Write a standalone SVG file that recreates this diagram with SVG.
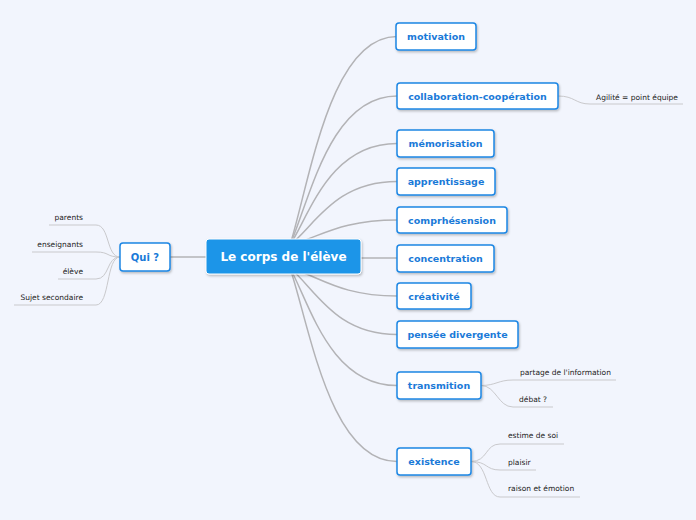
<svg xmlns="http://www.w3.org/2000/svg" width="696" height="520" viewBox="0 0 696 520">
<defs>
<filter id="sh" x="-10%" y="-20%" width="130%" height="150%">
<feDropShadow dx="1" dy="1.5" stdDeviation="1" flood-color="#000" flood-opacity="0.25"/>
</filter>
<style>
.main{fill:none;stroke:#b3b3b6;stroke-width:1.5}
.sub{fill:none;stroke:#c9c9cc;stroke-width:1}
.node rect{fill:#fff;stroke:#1c86e4;stroke-width:1.5}
.node text{font-family:"DejaVu Sans",Verdana,sans-serif;font-weight:bold;font-size:9.5px;fill:#1a7ad8;text-anchor:middle}
.leaf{font-family:"DejaVu Sans",Verdana,sans-serif;font-size:7.5px;fill:#222}
.lr{text-anchor:end}
</style>
</defs>
<rect width="696" height="520" fill="#f2f5fd"/>
<g id="connectors">
<path class="main" d="M290 245 C310 180.4 330 36.5 397 36.5"/>
<path class="main" d="M290 245 C310 198.8 330 96 397 96"/>
<path class="main" d="M290 245 C310 213.5 330 143.5 397 143.5"/>
<path class="main" d="M290 245 C315 225.3 335 181.5 397 181.5"/>
<path class="main" d="M290 245 C320 237 340 220 397 220"/>
<path class="main" d="M361 258 L397 258"/>
<path class="main" d="M290 268 C320 276.7 340 296 397 296"/>
<path class="main" d="M290 268 C315 288.6 335 334.5 397 334.5"/>
<path class="main" d="M290 268 C310 304.4 330 385.5 397 385.5"/>
<path class="main" d="M290 268 C310 328 330 461.5 397 461.5"/>
<path class="main" d="M170 257 L206 257"/>
<path class="sub" d="M120 257 C106 257 110 225 96 225 L49 225"/>
<path class="sub" d="M120 257 C106 257 110 252 96 252 L32 252"/>
<path class="sub" d="M120 257 C106 257 110 279 96 279 L58 279"/>
<path class="sub" d="M120 257 C106 257 110 305 96 305 L14 305"/>
<path class="sub" d="M558 96 C575 96 575 104 590 104 L683 104"/>
<path class="sub" d="M481 385.5 C496 385.5 498 380 513 380 L616 380"/>
<path class="sub" d="M481 385.5 C496 385.5 498 407 513 407 L553 407"/>
<path class="sub" d="M471 461.5 C488 461.5 485 444 500 444 L564 444"/>
<path class="sub" d="M471 461.5 C488 461.5 485 470 500 470 L536 470"/>
<path class="sub" d="M471 461.5 C488 461.5 485 497 500 497 L580 497"/>
</g>
<g id="center">
<rect x="206" y="239" width="155" height="35" rx="3" fill="#1b95e8" stroke="#fff" stroke-width="1" filter="url(#sh)"/>
<text x="283.5" y="261" font-family="DejaVu Sans,Verdana,sans-serif" font-weight="bold" font-size="12" fill="#fff" text-anchor="middle">Le corps de l'élève</text>
</g>
<g id="qui" class="node"><rect x="120" y="243" width="50" height="28" rx="3" filter="url(#sh)"/><text x="145" y="260.5" style="font-size:10px">Qui ?</text></g>
<g id="motivation" class="node"><rect x="396" y="23" width="80" height="27" rx="3" filter="url(#sh)"/><text x="436" y="40">motivation</text></g>
<g id="collaboration" class="node"><rect x="397" y="83" width="161" height="26" rx="3" filter="url(#sh)"/><text x="477.5" y="99.5">collaboration-coopération</text></g>
<g id="memorisation" class="node"><rect x="397" y="130" width="97" height="27" rx="3" filter="url(#sh)"/><text x="445.5" y="147">mémorisation</text></g>
<g id="apprentissage" class="node"><rect x="397" y="168" width="98" height="27" rx="3" filter="url(#sh)"/><text x="446" y="185">apprentissage</text></g>
<g id="comprhesension" class="node"><rect x="397" y="207" width="110" height="26" rx="3" filter="url(#sh)"/><text x="452" y="223.5">comprhésension</text></g>
<g id="concentration" class="node"><rect x="397" y="245" width="97" height="27" rx="3" filter="url(#sh)"/><text x="445.5" y="262">concentration</text></g>
<g id="creativite" class="node"><rect x="397" y="283" width="74" height="26" rx="3" filter="url(#sh)"/><text x="434" y="299.5">créativité</text></g>
<g id="pensee" class="node"><rect x="397" y="321" width="121" height="27" rx="3" filter="url(#sh)"/><text x="457.5" y="338">pensée divergente</text></g>
<g id="transmition" class="node"><rect x="397" y="372" width="84" height="27" rx="3" filter="url(#sh)"/><text x="439" y="389">transmition</text></g>
<g id="existence" class="node"><rect x="397" y="448" width="74" height="27" rx="3" filter="url(#sh)"/><text x="434" y="465">existence</text></g>
<g id="leaf-parents"><text class="leaf lr" x="83" y="220">parents</text></g>
<g id="leaf-enseignants"><text class="leaf lr" x="83" y="247">enseignants</text></g>
<g id="leaf-eleve"><text class="leaf lr" x="83" y="273.5">élève</text></g>
<g id="leaf-sujet"><text class="leaf lr" x="83" y="300">Sujet secondaire</text></g>
<g id="leaf-agilite"><text class="leaf" x="596" y="99.5">Agilité = point équipe</text></g>
<g id="leaf-partage"><text class="leaf" x="520" y="375">partage de l'information</text></g>
<g id="leaf-debat"><text class="leaf" x="519" y="401.5">débat ?</text></g>
<g id="leaf-estime"><text class="leaf" x="508" y="438">estime de soi</text></g>
<g id="leaf-plaisir"><text class="leaf" x="508" y="465">plaisir</text></g>
<g id="leaf-raison"><text class="leaf" x="508" y="491">raison et émotion</text></g>
</svg>
